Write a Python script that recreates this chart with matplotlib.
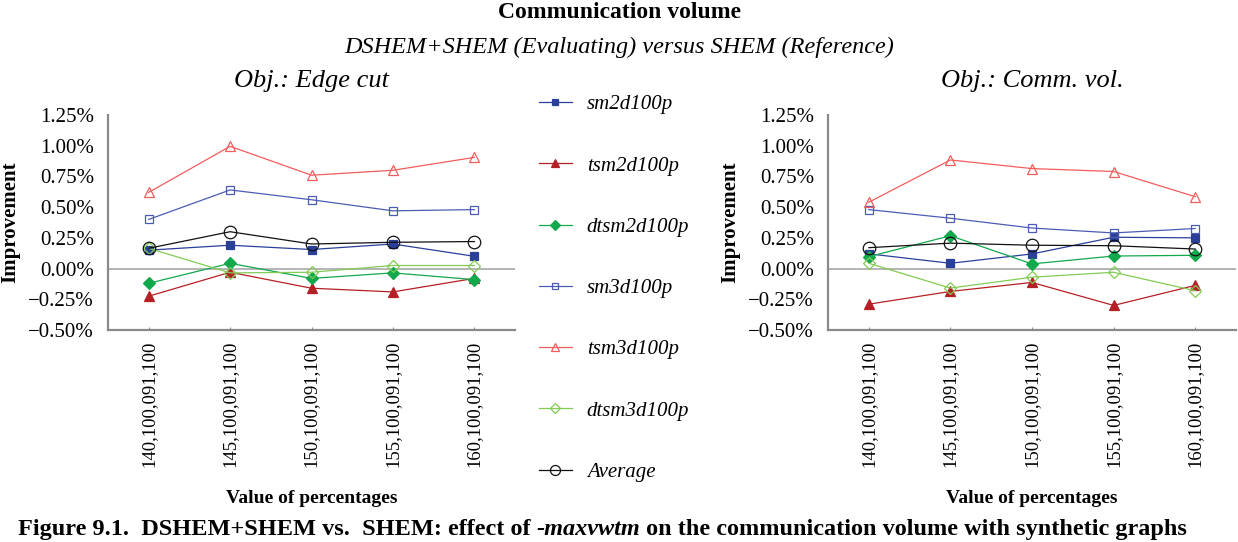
import matplotlib.pyplot as plt
import numpy as np
from matplotlib.ticker import FuncFormatter

plt.rcParams['font.family'] = ['Liberation Serif', 'DejaVu Serif']

# x categories (values of percentages)
categories = ['140,100,091,100', '145,100,091,100', '150,100,091,100',
              '155,100,091,100', '160,100,091,100']

series_names = ['sm2d100p', 'tsm2d100p', 'dtsm2d100p', 'sm3d100p',
                'tsm3d100p', 'dtsm3d100p', 'Average']

# improvement in %, objective: edge cut
edge_sm2d = [0.15, 0.19, 0.155, 0.20, 0.10]
edge_tsm2d = [-0.225, -0.03, -0.16, -0.19, -0.08]
edge_dtsm2d = [-0.12, 0.043, -0.08, -0.035, -0.09]
edge_sm3d = [0.40, 0.64, 0.56, 0.47, 0.48]
edge_tsm3d = [0.62, 0.995, 0.76, 0.80, 0.905]
edge_dtsm3d = [0.165, -0.035, -0.03, 0.025, 0.025]
edge_avg = [0.165, 0.30, 0.20, 0.214, 0.22]

# improvement in %, objective: communication volume
comm_sm2d = [0.12, 0.043, 0.119, 0.255, 0.25]
comm_tsm2d = [-0.29, -0.186, -0.113, -0.30, -0.137]
comm_dtsm2d = [0.097, 0.267, 0.038, 0.102, 0.108]
comm_sm3d = [0.48, 0.41, 0.33, 0.29, 0.326]
comm_tsm3d = [0.54, 0.884, 0.814, 0.79, 0.585]
comm_dtsm3d = [0.043, -0.159, -0.07, -0.03, -0.18]
comm_avg = [0.17, 0.207, 0.19, 0.186, 0.159]

edge_data = [edge_sm2d, edge_tsm2d, edge_dtsm2d, edge_sm3d, edge_tsm3d, edge_dtsm3d, edge_avg]
comm_data = [comm_sm2d, comm_tsm2d, comm_dtsm2d, comm_sm3d, comm_tsm3d, comm_dtsm3d, comm_avg]

# (line colour, marker, filled?)
styles = [
    ('#2a3f9a', 's', True),
    ('#b52025', '^', True),
    ('#12a84c', 'D', True),
    ('#4c5cb4', 's', False),
    ('#f25c5c', '^', False),
    ('#82cc55', 'D', False),
    ('#111111', 'o', False),
]
msizes = {'s': 6, '^': 7, 'D': 6, 'o': 9}

fig = plt.figure(figsize=(12.38, 5.42), dpi=100)
ax1 = fig.add_axes([108 / 1238, 1 - 330 / 542, 407 / 1238, 215 / 542])
ax2 = fig.add_axes([828 / 1238, 1 - 330 / 542, 408 / 1238, 215 / 542])

x = np.arange(len(categories))
handles = []


def pct(v, pos):
    s = '%.2f%%' % v
    return s.replace('-', '\u2212')


for ax, data, subtitle in [(ax1, edge_data, 'Obj.: Edge cut'),
                           (ax2, comm_data, 'Obj.: Comm. vol.')]:
    ax.axhline(0, color='#a8a8a8', lw=1.2, zorder=1)
    handles = []
    for vals, (col, mk, filled), name in zip(data, styles, series_names):
        h, = ax.plot(x, vals, color=col, lw=0.9, marker=mk, ms=msizes[mk],
                     markerfacecolor=col if filled else 'none',
                     markeredgecolor=col, markeredgewidth=0.9, label=name,
                     zorder=3)
        handles.append(h)
    ax.set_xlim(-0.5, 4.5)
    ax.set_ylim(-0.5, 1.25)
    ax.set_yticks(np.arange(-0.5, 1.26, 0.25))
    ax.yaxis.set_major_formatter(FuncFormatter(pct))
    ax.set_xticks(x)
    ax.set_xticklabels(categories, rotation=90, fontsize=13.5)
    ax.tick_params(axis='y', length=0, labelsize=15, pad=10)
    ax.tick_params(axis='x', direction='in', length=2, color='#888888', pad=8)
    for s in ['top', 'right']:
        ax.spines[s].set_visible(False)
    for s in ['left', 'bottom']:
        ax.spines[s].set_color('#8a8a8a')
        ax.spines[s].set_linewidth(1.6)
    ax.set_ylabel('Improvement', fontsize=15, fontweight='bold', labelpad=6)
    ax.set_xlabel('Value of percentages', fontsize=14, fontweight='bold', labelpad=16)
    ax.set_title(subtitle, fontsize=19, style='italic', pad=20)

fig.legend(handles, series_names, loc='upper left', bbox_to_anchor=(520 / 1238, 1 - 76 / 542),
           frameon=False, prop={'style': 'italic', 'size': 15}, handlelength=1.6,
           handletextpad=0.7, labelspacing=2.0, markerscale=0.8)

fig.text(0.5, 1 - 12 / 542, 'Communication volume', ha='center', va='center',
         fontsize=17, fontweight='bold')
fig.text(0.5, 1 - 47 / 542, 'DSHEM+SHEM (Evaluating) versus SHEM (Reference)',
         ha='center', va='center', fontsize=17.5, style='italic')

# caption: bold text with an italic option name in the middle
cap1 = fig.text(18 / 1238, 2 / 542, 'Figure 9.1.  DSHEM+SHEM vs.  SHEM: effect of ',
                ha='left', va='bottom', fontsize=17.5, fontweight='bold')
fig.canvas.draw()
bb = cap1.get_window_extent()
cap2 = fig.text(bb.x1, bb.y0, '-maxvwtm', transform=None, fontsize=17.5,
                fontweight='bold', style='italic', va='bottom')
fig.canvas.draw()
bb2 = cap2.get_window_extent()
fig.text(bb2.x1, bb.y0, ' on the communication volume with synthetic graphs',
         transform=None, fontsize=17.5, fontweight='bold', va='bottom')

fig.savefig('out.png', dpi=100)
